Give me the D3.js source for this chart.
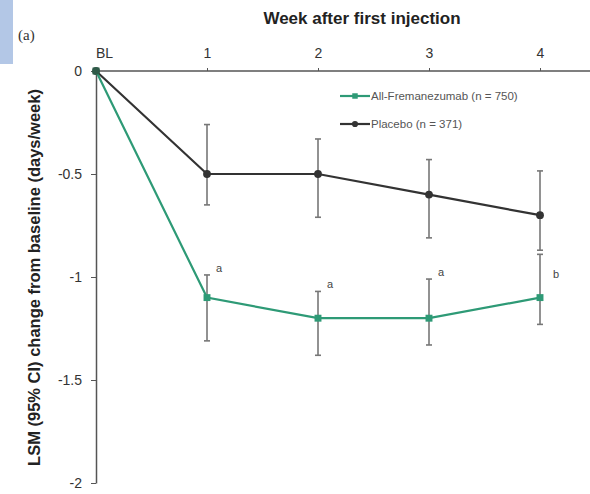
<!DOCTYPE html>
<html>
<head>
<meta charset="utf-8">
<script src="https://cdn.jsdelivr.net/npm/d3@7"></script>
<style>
  body { margin: 0; background: #fff; }
  svg { font-family: "Liberation Sans", Arial, sans-serif; }
</style>
</head>
<body>
<svg id="chart" width="590" height="494"></svg>
<script>
// weeks and tick labels
const weeks = [0, 1, 2, 3, 4]
const weekLabels = ["BL", "1", "2", "3", "4"]
const yTicks = [0, -0.5, -1, -1.5, -2]

// All-Fremanezumab (n = 750)
const fremMean = [0, -1.1, -1.2, -1.2, -1.1]
const fremLow = [0, -1.31, -1.38, -1.33, -1.23]
const fremHigh = [0, -0.99, -1.07, -1.01, -0.89]
const fremNotes = ["", "a", "a", "a", "b"]

// Placebo (n = 371)
const placMean = [0, -0.5, -0.5, -0.6, -0.7]
const placLow = [0, -0.65, -0.71, -0.81, -0.87]
const placHigh = [0, -0.26, -0.33, -0.43, -0.485]

const series = [
  { name: "All-Fremanezumab (n = 750)", color: "#2e9a76", shape: "square", mean: fremMean, low: fremLow, high: fremHigh },
  { name: "Placebo (n = 371)", color: "#333333", shape: "circle", mean: placMean, low: placLow, high: placHigh }
]

const svg = d3.select("#chart")

const x = d3.scaleLinear().domain([0, 4]).range([96, 540])
const y = d3.scaleLinear().domain([0, -2]).range([71, 483])

// little blue tab in the corner
svg.append("rect")
  .attr("x", 0).attr("y", 0).attr("width", 13).attr("height", 64)
  .attr("fill", "#b3c7e6")

svg.append("text")
  .attr("x", 18).attr("y", 40)
  .attr("font-family", "Liberation Serif, serif")
  .attr("font-size", 15)
  .attr("fill", "#333")
  .text("(a)")

// top x axis
const xAxis = svg.append("g")
  .attr("transform", `translate(0,${y(0)})`)
  .call(d3.axisTop(x).tickValues(weeks).tickFormat((d, i) => weekLabels[i]).tickSize(3).tickSizeOuter(0).tickPadding(10))
xAxis.select(".domain").attr("d", `M${x(0)},0H590`).attr("stroke", "#555").attr("stroke-width", 1.5)
xAxis.selectAll(".tick line").attr("stroke", "#555")
xAxis.selectAll(".tick text")
  .attr("font-size", 14).attr("fill", "#333")
  .attr("dx", (d, i) => i === 0 ? 8 : 0)

svg.append("text")
  .attr("x", 362).attr("y", 24)
  .attr("text-anchor", "middle")
  .attr("font-size", 17).attr("font-weight", "bold").attr("fill", "#222")
  .text("Week after first injection")

// left y axis
const yAxis = svg.append("g")
  .attr("transform", `translate(${x(0)},0)`)
  .call(d3.axisLeft(y).tickValues(yTicks).tickFormat(d => String(d)).tickSize(5).tickSizeOuter(0).tickPadding(9))
yAxis.select(".domain").attr("stroke", "#555").attr("stroke-width", 1.5)
yAxis.selectAll(".tick line").attr("stroke", "#555")
yAxis.selectAll(".tick text").attr("font-size", 14).attr("fill", "#333")

svg.append("text")
  .attr("transform", `translate(40,${(65 + 490) / 2}) rotate(-90)`)
  .attr("text-anchor", "middle")
  .attr("font-size", 16.5).attr("font-weight", "bold").attr("fill", "#222")
  .text("LSM (95% CI) change from baseline (days/week)")

// error bars
series.forEach(s => {
  const g = svg.append("g")
  weeks.forEach((w, i) => {
    if (i === 0) return
    g.append("line")
      .attr("x1", x(w)).attr("x2", x(w))
      .attr("y1", y(s.high[i])).attr("y2", y(s.low[i]))
      .attr("stroke", "#777").attr("stroke-width", 1.6)
    ;[s.high[i], s.low[i]].forEach(v => {
      g.append("line")
        .attr("x1", x(w) - 3).attr("x2", x(w) + 3)
        .attr("y1", y(v)).attr("y2", y(v))
        .attr("stroke", "#777").attr("stroke-width", 1.6)
    })
  })
})

// lines and markers
const line = d3.line().x((d, i) => x(weeks[i])).y(d => y(d))
series.slice().reverse().forEach(s => {
  svg.append("path")
    .datum(s.mean)
    .attr("d", line)
    .attr("fill", "none")
    .attr("stroke", s.color).attr("stroke-width", 2.2)
  svg.append("g").selectAll("path")
    .data(s.mean)
    .join("path")
    .attr("transform", (d, i) => `translate(${x(weeks[i])},${y(d)})`)
    .attr("d", d3.symbol(s.shape === "square" ? d3.symbolSquare : d3.symbolCircle, 48))
    .attr("fill", (d, i) => i === 0 ? "#2f5a48" : s.color)
})

// significance notes
svg.append("g").selectAll("text")
  .data(fremNotes)
  .join("text")
  .attr("x", (d, i) => x(weeks[i]) + (d === "b" ? 13 : 9))
  .attr("y", (d, i) => d === "b" ? 278 : y(fremHigh[i]) - 3)
  .attr("font-size", 11).attr("fill", "#444")
  .text(d => d)

// legend
const legend = svg.append("g")
series.forEach((s, i) => {
  const ly = 96 + i * 28
  legend.append("line")
    .attr("x1", 340).attr("x2", 370).attr("y1", ly).attr("y2", ly)
    .attr("stroke", s.color).attr("stroke-width", 2.2)
  legend.append("path")
    .attr("transform", `translate(355,${ly})`)
    .attr("d", d3.symbol(s.shape === "square" ? d3.symbolSquare : d3.symbolCircle, 30))
    .attr("fill", s.color)
  legend.append("text")
    .attr("x", 371).attr("y", ly + 4)
    .attr("font-size", 11.5).attr("fill", "#555")
    .text(s.name)
})
</script>
</body>
</html>
